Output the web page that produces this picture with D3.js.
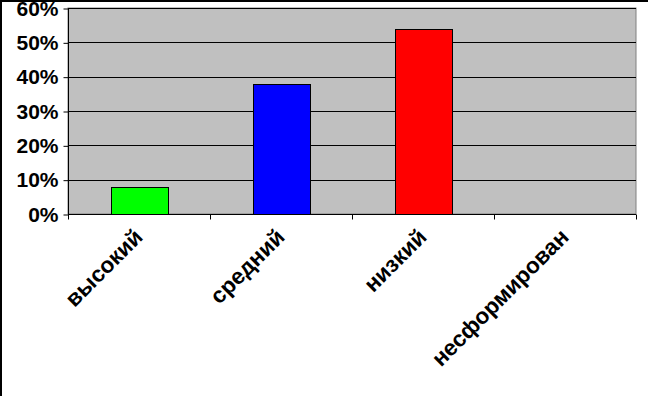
<!DOCTYPE html>
<html>
<head>
<meta charset="utf-8">
<script src="https://cdn.jsdelivr.net/npm/d3@7"></script>
<style>
  html, body { margin: 0; padding: 0; background: #fff; }
  #chart { width: 648px; height: 396px; }
  text { font-family: "Liberation Sans", Arial, sans-serif; font-weight: bold; }
</style>
</head>
<body>
<div id="chart"></div>
<script>
const categories = ["высокий", "средний", "низкий", "несформирован"];
const values = [0.08, 0.38, 0.54, 0];
const colors = ["#00ff00", "#0000ff", "#ff0000", "#ffff00"];
const yTicks = [0, 0.1, 0.2, 0.3, 0.4, 0.5, 0.6];

const W = 648, H = 396;
const plot = { left: 68, top: 8, right: 636, bottom: 214 };

const svg = d3.select("#chart")
  .append("svg")
  .attr("width", W)
  .attr("height", H);

// outer frame (only left and top edges show in the picture)
svg.append("line").attr("x1", 1).attr("x2", 1).attr("y1", 0).attr("y2", H)
  .attr("stroke", "#000").attr("stroke-width", 2);
svg.append("line").attr("x1", 0).attr("x2", W).attr("y1", 1).attr("y2", 1)
  .attr("stroke", "#000").attr("stroke-width", 2);

const x = d3.scaleBand()
  .domain(categories)
  .range([plot.left, plot.right])
  .paddingInner(0.6)
  .paddingOuter(0.3);

const xBand = d3.scaleBand()
  .domain(categories)
  .range([plot.left, plot.right]);

const y = d3.scaleLinear()
  .domain([0, 0.6])
  .range([plot.bottom, plot.top]);

// plot background
svg.append("rect")
  .attr("x", plot.left)
  .attr("y", plot.top)
  .attr("width", plot.right - plot.left)
  .attr("height", plot.bottom - plot.top)
  .attr("fill", "#c0c0c0")
  .attr("stroke", "#808080")
  .attr("stroke-width", 1);

// gridlines
svg.append("g")
  .selectAll("line")
  .data(yTicks)
  .join("line")
  .attr("x1", plot.left)
  .attr("x2", plot.right)
  .attr("y1", d => Math.round(y(d)) + 0.5)
  .attr("y2", d => Math.round(y(d)) + 0.5)
  .attr("stroke", "#000")
  .attr("stroke-width", 1);

// bars
svg.append("g")
  .selectAll("rect")
  .data(categories.map((c, i) => ({ c, v: values[i], color: colors[i] })).filter(d => d.v > 0))
  .join("rect")
  .attr("x", d => Math.round(x(d.c)) + 0.5)
  .attr("y", d => Math.round(y(d.v)) + 0.5)
  .attr("width", Math.round(x.bandwidth()))
  .attr("height", d => Math.round(y(0)) - Math.round(y(d.v)))
  .attr("fill", d => d.color)
  .attr("stroke", "#000")
  .attr("stroke-width", 1);

// y axis
const yAxis = svg.append("g")
  .attr("transform", `translate(${plot.left + 0.5},0.5)`)
  .call(d3.axisLeft(y).tickValues(yTicks).tickFormat(d3.format(".0%")).tickSize(5).tickPadding(5));
yAxis.select(".domain").attr("stroke", "#000").attr("d", `M0,${plot.top}V${plot.bottom}`);
yAxis.selectAll("text")
  .attr("font-size", 21)
  .attr("font-family", "Liberation Sans, Arial, sans-serif")
  .attr("font-weight", "bold")
  .attr("fill", "#000");

// x axis
const xAxis = svg.append("g")
  .attr("transform", `translate(0,${plot.bottom + 0.5})`);
xAxis.append("line")
  .attr("x1", plot.left).attr("x2", plot.right)
  .attr("stroke", "#000");
xAxis.selectAll(".tick")
  .data(categories.concat(["end"]))
  .join("line")
  .attr("x1", (d, i) => Math.round(plot.left + i * xBand.bandwidth()) + 0.5)
  .attr("x2", (d, i) => Math.round(plot.left + i * xBand.bandwidth()) + 0.5)
  .attr("y1", 0).attr("y2", 5)
  .attr("stroke", "#000");

xAxis.selectAll("text")
  .data(categories)
  .join("text")
  .attr("transform", d => `translate(${xBand(d) + xBand.bandwidth() / 2 + 5},${24}) rotate(-45)`)
  .attr("text-anchor", "end")
  .attr("font-size", 22.5)
  .attr("fill", "#000")
  .text(d => d);
</script>
</body>
</html>
